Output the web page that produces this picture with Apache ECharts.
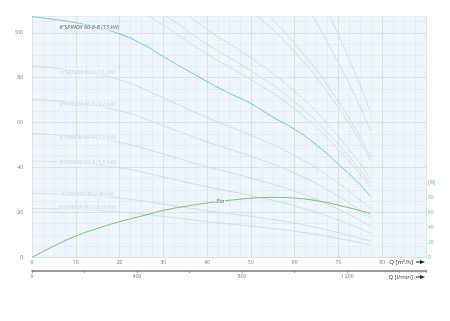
<!DOCTYPE html>
<html><head><meta charset="utf-8">
<script src="https://cdn.jsdelivr.net/npm/echarts@6/dist/echarts.min.js"></script>
<style>html,body{margin:0;padding:0;background:#fff}#c{width:450px;height:321px}</style>
</head><body><div id="c"></div>
<script>
// ---- data ----
const flowGrid = [0, 10, 20, 30, 40, 50, 60, 70, 77.3];          // Q [m3/h]
const head_60_2B = [21.8, 21.3, 20.2, 18.2, 15.9, 13.9, 11.6, 8.4, 5.5];
const head_60_2  = [28.5, 27.8, 26.4, 23.7, 20.8, 18.2, 15.2, 11.0, 7.2];
const head_60_3  = [43.0, 41.9, 39.9, 35.8, 31.4, 27.5, 22.9, 16.6, 10.8];
const head_60_4  = [55.2, 53.8, 51.2, 46.0, 40.3, 35.3, 29.4, 21.4, 13.9];
const head_60_5  = [70.4, 68.6, 65.3, 58.6, 51.4, 45.0, 37.5, 27.2, 17.7];
const head_60_6  = [85.2, 83.1, 79.1, 71.0, 62.2, 54.4, 45.3, 33.0, 21.5];
const head_up1   = [124, 120.9, 115.1, 103.3, 90.5, 79.2, 66.0, 48.0, 31.2];
const head_up2   = [130, 126.8, 120.6, 108.3, 94.9, 83.1, 69.2, 50.3, 32.8];
const head_up3   = [139, 135.5, 129.0, 115.8, 101.5, 88.8, 73.9, 53.8, 35.0];
const head_up4   = [172, 167.7, 159.6, 143.3, 125.6, 109.9, 91.5, 66.6, 43.3];
const head_up5   = [179, 174.5, 166.1, 149.1, 130.7, 114.4, 95.2, 69.3, 45.1];
const head_up6   = [224, 218.4, 207.9, 186.6, 163.5, 143.1, 119.2, 86.7, 56.4];
const head_up7   = [256, 249.6, 237.6, 213.2, 186.9, 163.6, 136.2, 99.1, 64.5];

const mainFlow = [0, 5, 10, 15, 20, 25, 30, 35, 40, 45, 50, 55, 60, 65, 70, 75, 77.3];
const mainHead = [107.2, 106.0, 104.5, 102.3, 99.5, 95.2, 89.4, 83.8, 78.3, 73.2, 68.5, 62.5, 57.0, 50.0, 41.5, 32.3, 27.0];

const etaFlow = [0, 5, 10, 15, 20, 25, 30, 35, 40, 45, 50, 55, 60, 65, 70, 77.3];
const etaVal  = [0, 15, 28.4, 38.5, 47.5, 55, 62.5, 68, 72.5, 76, 78.7, 80, 79, 75.5, 69.5, 58.7];

const curveNames = ['6"SPINOX 60-8-B (13 kW)', '6"SPINOX 60-6 (11 kW)', '6"SPINOX 60-5 (9,2 kW)',
  '6"SPINOX 60-4 (7,5 kW)', '6"SPINOX 60-3 (5,5 kW)', '6"SPINOX 60-2 (4 kW)', '6"SPINOX 60-2-B (3 kW)'];
const curveLabelQ = [13.1, 12.7, 12.7, 12.7, 12.7, 12.7, 12.7];
const curveLabelH = [102.4, 82.5, 68.0, 53.3, 42.3, 28.1, 22.2];
const etaLabelQ = 43, etaLabelVal = 74.1;

const qTicks = [0, 10, 20, 30, 40, 50, 60, 70, 80];
const lminTicks = [0, 400, 800, 1200];
const hTicks = [0, 20, 40, 60, 80, 100];
const pctTicks = [0, 20, 40, 60, 80];

// ---- chart ----
const zip = (a, b) => a.map((v, i) => [v, b[i]]);
const grayCurves = [head_60_2B, head_60_2, head_60_3, head_60_4, head_60_5, head_60_6,
  head_up1, head_up2, head_up3, head_up4, head_up5, head_up6, head_up7];
const FONT = 'Open Sans';
const major = '#d6dade', minor = '#e4eaf0';
const series = [];
grayCurves.forEach(h => series.push({
  type: 'line', data: zip(flowGrid, h), smooth: true, showSymbol: false, silent: true,
  lineStyle: {color: '#dadada', width: 1}, z: 2
}));
series.push({type: 'line', data: zip(mainFlow, mainHead), smooth: true, showSymbol: false,
  lineStyle: {color: '#6cc4f0', width: 1}, z: 4});
series.push({type: 'line', yAxisIndex: 1, data: zip(etaFlow, etaVal), smooth: true, showSymbol: false,
  lineStyle: {color: '#74c072', width: 1}, z: 4});
series.push({type: 'scatter', symbolSize: 0, z: 6, silent: true,
  data: curveNames.map((n, i) => ({value: [curveLabelQ[i], curveLabelH[i]], name: n,
    label: {color: i === 0 ? '#333' : '#c9c9c9'}})),
  label: {show: true, position: 'inside', formatter: p => p.name, fontFamily: FONT, fontStyle: 'italic',
    fontSize: 5.5, backgroundColor: '#eef6fd', padding: [0, 1]}});
series.push({type: 'scatter', yAxisIndex: 1, symbolSize: 0, z: 6, silent: true,
  data: [{value: [etaLabelQ, etaLabelVal], name: 'Eta'}],
  label: {show: true, position: 'inside', formatter: 'Eta', fontFamily: FONT, fontStyle: 'italic',
    fontSize: 5.5, color: '#444', backgroundColor: '#eef6fd', padding: [0, 1]}});

function axisName(text, cy) {
  return {type: 'group', children: [
    {type: 'text', x: 413, y: cy, style: {text: text, fill: '#333', font: '6px "Open Sans"', align: 'right', verticalAlign: 'middle'}},
    {type: 'line', shape: {x1: 416, y1: cy, x2: 422, y2: cy}, style: {stroke: '#222', lineWidth: 1}},
    {type: 'polygon', shape: {points: [[420, cy - 2], [425, cy], [420, cy + 2]]}, style: {fill: '#222'}}
  ]};
}

const chart = echarts.init(document.getElementById('c'), null, {renderer: 'canvas'});
chart.setOption({
  animation: false,
  grid: [
    {left: 32, top: 16, width: 394, height: 241.3, show: true, backgroundColor: '#eef6fd', borderWidth: 0},
    {left: 32, top: 270.7, width: 394, height: 0, show: false}
  ],
  xAxis: [{
    type: 'value', gridIndex: 0, min: 0, max: 90, interval: 2.5, position: 'bottom',
    axisLine: {show: false}, axisTick: {show: false},
    axisLabel: {formatter: v => qTicks.includes(v) ? String(v) : '', fontSize: 5, color: '#777', margin: 3, fontFamily: FONT},
    splitLine: {show: true, lineStyle: {color: [major, minor, minor, minor], width: 0.8}}
  }, {
    type: 'value', gridIndex: 1, min: 0, max: 1500, interval: 200, position: 'bottom',
    axisLine: {show: true, lineStyle: {color: '#7a7a7a', width: 1.5}},
    axisTick: {show: true, length: 2, lineStyle: {color: '#7a7a7a'}},
    axisLabel: {formatter: v => lminTicks.includes(v) ? (v >= 1000 ? '1 ' + String(v).slice(1) : String(v)) : '',
      fontSize: 5, color: '#777', margin: 3.5, fontFamily: FONT},
    splitLine: {show: false}
  }],
  yAxis: [{
    type: 'value', gridIndex: 0, min: 0, max: 107.5, interval: 5,
    axisLine: {show: false}, axisTick: {show: false},
    axisLabel: {formatter: v => hTicks.includes(v) ? String(v) : '', fontSize: 5, color: '#777', margin: 9, fontFamily: FONT},
    splitLine: {show: true, lineStyle: {color: [major, minor, minor, minor], width: 0.8}}
  }, {
    type: 'value', gridIndex: 0, min: 0, max: 322, interval: 20, position: 'right',
    axisLine: {show: false}, axisTick: {show: false}, splitLine: {show: false},
    axisLabel: {formatter: v => pctTicks.includes(v) ? String(v) : (v === 100 ? '[%]' : ''),
      fontSize: 5, color: '#6cbf6a', margin: 2, fontFamily: FONT}
  }, {
    type: 'value', gridIndex: 1, show: false
  }],
  graphic: [axisName('Q [m³/h]', 262), axisName('Q [l/min]', 277)],
  series: series
});
</script></body></html>
